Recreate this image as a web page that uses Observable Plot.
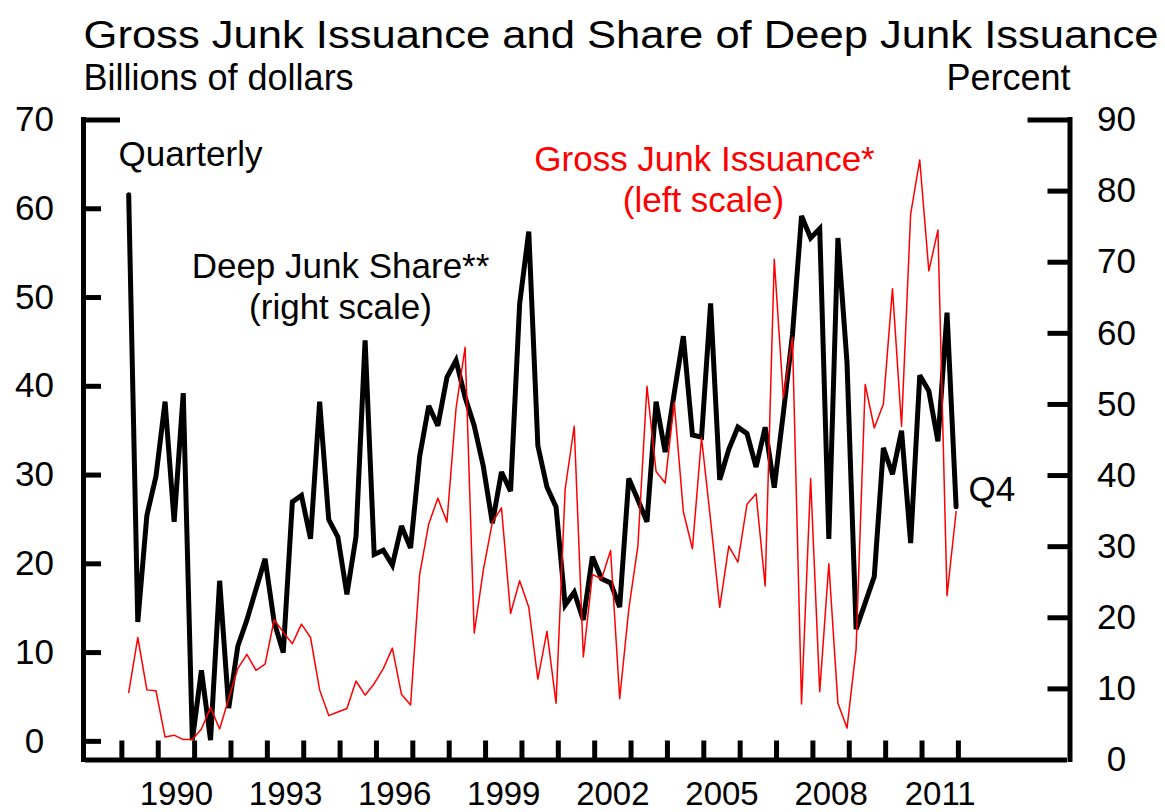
<!DOCTYPE html>
<html>
<head>
<meta charset="utf-8">
<script src="https://cdn.jsdelivr.net/npm/d3@7"></script>
<script src="https://cdn.jsdelivr.net/npm/@observablehq/plot@0.6"></script>
<style>
  html, body { margin: 0; padding: 0; background: #fff; }
  #chart { width: 1165px; height: 812px; }
</style>
</head>
<body>
<div id="chart"></div>
<script>
// ---- Data (quarterly, 1989Q1 .. 2011Q4) ----
const startYear = 1989;
// Gross junk issuance, billions of dollars (left scale)
const grossJunk = [
  5.5, 11.7, 5.8, 5.7, 0.5, 0.7, 0.2, 0.2,
  1.4, 3.8, 1.4, 4.8, 8.2, 9.8, 8.0, 8.7,
  13.7, 12.3, 11.0, 13.2, 11.7, 5.8, 2.9, 3.3,
  3.7, 6.8, 5.2, 6.5, 8.2, 10.5, 5.3, 4.1,
  18.8, 24.5, 27.4, 24.7, 37.5, 44.4, 12.2, 19.3,
  24.7, 26.3, 14.4, 18.1, 15.1, 7.0, 12.4, 4.3,
  28.4, 35.5, 9.5, 18.8, 18.3, 21.5, 4.8, 14.9,
  22.0, 40.0, 30.4, 29.1, 38.2, 25.9, 21.7, 34.2,
  24.9, 15.1, 22.0, 20.2, 26.7, 27.9, 17.5, 54.3,
  38.7, 45.5, 4.2, 29.6, 5.6, 20.0, 4.3, 1.5,
  10.4, 40.2, 35.3, 38.0, 51.0, 35.5, 59.4, 65.5,
  53.0, 57.6, 16.4, 25.9
];
// Deep junk share, percent (right scale)
const deepShare = [
  79.5, 19.4, 34.4, 39.9, 50.4, 33.5, 51.6, 2.8,
  12.6, 2.8, 25.2, 7.3, 16.0, 19.7, 24.0, 28.3,
  19.4, 15.1, 36.3, 37.2, 31.1, 50.4, 33.8, 31.4,
  23.3, 31.4, 59.0, 28.9, 29.5, 27.4, 32.9, 29.8,
  42.7, 49.8, 47.0, 53.8, 56.2, 51.0, 47.0, 41.3,
  33.3, 40.5, 37.8, 64.2, 74.3, 44.2, 38.4, 35.6,
  21.8, 23.6, 19.7, 28.6, 25.5, 24.9, 21.5, 39.6,
  36.6, 33.5, 50.4, 43.3, 51.6, 59.6, 45.7, 45.4,
  64.2, 39.4, 43.7, 46.8, 45.9, 41.2, 46.8, 38.3,
  48.8, 59.8, 76.5, 73.4, 74.7, 31.1, 73.4, 55.9,
  18.4, 22.1, 25.8, 43.9, 40.2, 46.3, 30.5, 54.1,
  51.9, 44.8, 62.9, 35.6
];
const leftTicks = [0, 10, 20, 30, 40, 50, 60, 70];
const rightTicks = [0, 10, 20, 30, 40, 50, 60, 70, 80, 90];
const yearTicks = d3.range(1989, 2013);
const yearLabels = [1990, 1993, 1996, 1999, 2002, 2005, 2008, 2011];

const titleText = "Gross Junk Issuance and Share of Deep Junk Issuance";

// ---- Scales ----
const X0 = 1988, X1 = 2015;
const L0 = -2.1, LMAX = 70, RMAX = 90;
const toLeft = r => L0 + r * (LMAX - L0) / RMAX;

const data = grossJunk.map((v, i) => ({
  t: startYear + (i + 0.75) / 4,
  junk: v,
  deep: deepShare[i]
}));

const FONT = "'Liberation Sans', Arial, Helvetica, sans-serif";
const FS = 35;
const pxX = 36.37;   // approx px per year
const pxY = 8.877;   // approx px per left unit

const chart = Plot.plot({
  width: 1165,
  height: 812,
  marginLeft: 85,
  marginRight: 98,
  marginTop: 119.5,
  marginBottom: 52.5,
  x: {domain: [X0, X1], axis: null},
  y: {domain: [L0, LMAX], axis: null},
  style: {fontFamily: FONT, background: "#fff", color: "#000", overflow: "visible"},
  marks: [
    // frame: bottom axis line
    Plot.ruleY([{y: L0, x1: X0, x2: X1}], {y: "y", x1: "x1", x2: "x2", stroke: "#000", strokeWidth: 5}),
    // left axis line + top cap + ticks
    Plot.ruleX([{x: X0, y1: L0, y2: LMAX}], {x: "x", y1: "y1", y2: "y2", stroke: "#000", strokeWidth: 5, dx: -2, strokeLinecap: "square"}),
    Plot.ruleY([{y: LMAX, x1: X0, x2: X0 + 37 / pxX}], {y: "y", x1: "x1", x2: "x2", stroke: "#000", strokeWidth: 5, dx: -2}),
    Plot.ruleY(leftTicks.filter(d => d < LMAX), {y: d => d, x1: X0, x2: X0 + 18 / pxX, stroke: "#000", strokeWidth: 5, dx: -2}),
    // right axis line + top cap + ticks
    Plot.ruleX([{x: X1, y1: L0, y2: LMAX}], {x: "x", y1: "y1", y2: "y2", stroke: "#000", strokeWidth: 5, dx: 2.5, strokeLinecap: "square"}),
    Plot.ruleY([{y: LMAX, x1: X1 - 42 / pxX, x2: X1}], {y: "y", x1: "x1", x2: "x2", stroke: "#000", strokeWidth: 5, dx: 2.5}),
    Plot.ruleY(rightTicks.filter(d => d > 0 && d < RMAX), {y: d => toLeft(d), x1: X1 - 22 / pxX, x2: X1, stroke: "#000", strokeWidth: 5, dx: 2.5}),
    // x ticks (pointing up from the axis)
    Plot.ruleX(yearTicks, {x: d => d, y1: L0, y2: L0 + 19 / pxY, stroke: "#000", strokeWidth: 5}),

    // series
    Plot.line(data, {x: "t", y: d => toLeft(d.deep), stroke: "#000", strokeWidth: 5, strokeLinejoin: "miter", strokeMiterlimit: 3}),
    Plot.line(data, {x: "t", y: "junk", stroke: "#ff0000", strokeWidth: 1.5}),

    // tick labels
    Plot.text(leftTicks, {y: d => d, text: d => String(d), frameAnchor: "left", dx: -51, textAnchor: "middle", lineAnchor: "middle", fontSize: FS, fill: "#000"}),
    Plot.text(rightTicks, {y: d => toLeft(d), text: d => String(d), frameAnchor: "right", dx: 49, textAnchor: "middle", lineAnchor: "middle", fontSize: FS, fill: "#000"}),
    Plot.text(yearLabels, {x: d => d + 0.5, text: d => String(d), frameAnchor: "bottom", lineAnchor: "bottom", dy: 44.5, textAnchor: "middle", fontSize: 33, fill: "#000"}),

    // titles
    Plot.text([titleText], {text: d => d, frameAnchor: "top-left", textAnchor: "start", lineAnchor: "bottom", dx: -2, dy: -72.5, fontSize: 38, fill: "#000"}),
    Plot.text(["Billions of dollars"], {text: d => d, frameAnchor: "top-left", textAnchor: "start", lineAnchor: "bottom", dx: -2, dy: -30.5, fontSize: FS + 1, fill: "#000"}),
    Plot.text(["Percent"], {text: d => d, frameAnchor: "top-right", textAnchor: "end", lineAnchor: "bottom", dx: 3, dy: -30.5, fontSize: FS + 1, fill: "#000"}),

    // annotations
    Plot.text(["Quarterly"], {text: d => d, frameAnchor: "top-left", textAnchor: "start", lineAnchor: "bottom", dx: 33, dy: 45.5, fontSize: FS, fill: "#000"}),
    Plot.text(["Deep Junk Share**"], {text: d => d, frameAnchor: "top-left", textAnchor: "middle", lineAnchor: "bottom", dx: 255, dy: 157.5, fontSize: FS, fill: "#000"}),
    Plot.text(["(right scale)"], {text: d => d, frameAnchor: "top-left", textAnchor: "middle", lineAnchor: "bottom", dx: 255, dy: 198.5, fontSize: FS, fill: "#000"}),
    Plot.text(["Gross Junk Issuance*"], {text: d => d, frameAnchor: "top-left", textAnchor: "middle", lineAnchor: "bottom", dx: 619, dy: 50.5, fontSize: FS, fill: "#ff0000"}),
    Plot.text(["(left scale)"], {text: d => d, frameAnchor: "top-left", textAnchor: "middle", lineAnchor: "bottom", dx: 618, dy: 91.5, fontSize: FS, fill: "#ff0000"}),
    Plot.text(["Q4"], {text: d => d, frameAnchor: "top-left", textAnchor: "start", lineAnchor: "bottom", dx: 883, dy: 380.5, fontSize: FS, fill: "#000"})
  ]
});

document.getElementById("chart").appendChild(chart);

// stretch the title to the reference's width
d3.select(chart).selectAll("text")
  .filter(function () { return this.textContent === titleText; })
  .attr("textLength", 1075)
  .attr("lengthAdjust", "spacingAndGlyphs");
</script>
</body>
</html>
